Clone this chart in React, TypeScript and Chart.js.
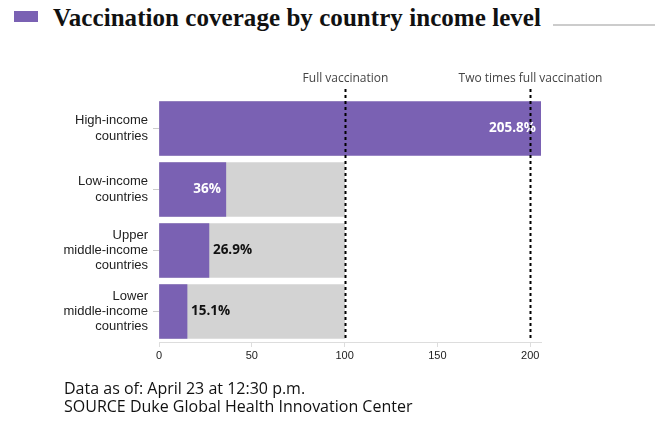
import React, { useEffect, useRef } from "react";
import { Chart, registerables } from "chart.js";

Chart.register(...registerables);

const categories: string[][] = [
  ["High-income", "countries"],
  ["Low-income", "countries"],
  ["Upper", "middle-income", "countries"],
  ["Lower", "middle-income", "countries"],
];
const coverage: number[] = [205.8, 36, 26.9, 15.1];
const fullTarget: number[] = [100, 100, 100, 100];
const valueLabels: string[] = ["205.8%", "36%", "26.9%", "15.1%"];
const referenceLines: number[] = [100, 200];
const referenceLabels: string[] = ["Full vaccination", "Two times full vaccination"];
const xTicks: number[] = [0, 50, 100, 150, 200];

const PURPLE = "#7a61b3";
const GRAY = "#d3d3d3";

const overlayPlugin = {
  id: "overlay",
  afterDatasetsDraw(chart: any) {
    const { ctx, chartArea } = chart;
    const xs = chart.scales.x;
    const meta = chart.getDatasetMeta(1);
    ctx.save();
    ctx.font = "bold 13.5px 'Open Sans', sans-serif";
    ctx.textBaseline = "middle";
    meta.data.forEach((bar: any, i: number) => {
      const v = coverage[i];
      if (v > 30) {
        ctx.fillStyle = "#ffffff";
        ctx.textAlign = "right";
        ctx.fillText(valueLabels[i], bar.x - 5, bar.y);
      } else {
        ctx.fillStyle = "#111111";
        ctx.textAlign = "left";
        ctx.fillText(valueLabels[i], bar.x + 4, bar.y);
      }
    });
    referenceLines.forEach((v, i) => {
      const x = Math.round(xs.getPixelForValue(v)) + 0.5;
      ctx.beginPath();
      ctx.setLineDash([3, 3]);
      ctx.lineWidth = 2;
      ctx.strokeStyle = "#000";
      ctx.moveTo(x, chartArea.top - 9);
      ctx.lineTo(x, chartArea.bottom - 4);
      ctx.stroke();
      ctx.setLineDash([]);
      ctx.font = "12px 'Open Sans', sans-serif";
      ctx.fillStyle = "#444";
      ctx.textAlign = "center";
      ctx.textBaseline = "alphabetic";
      ctx.fillText(referenceLabels[i], x, chartArea.top - 16);
    });
    ctx.restore();
  },
};

export default function App() {
  const ref = useRef<HTMLCanvasElement>(null);
  useEffect(() => {
    if (!ref.current) return;
    const chart = new Chart(ref.current, {
      type: "bar",
      data: {
        labels: categories,
        datasets: [
          {
            data: fullTarget,
            backgroundColor: GRAY,
            barThickness: 54,
            grouped: false,
            order: 2,
          },
          {
            data: coverage,
            backgroundColor: PURPLE,
            barThickness: 54,
            grouped: false,
            order: 1,
          },
        ],
      },
      options: {
        indexAxis: "y",
        animation: false,
        responsive: false,
        maintainAspectRatio: false,
        layout: { padding: { top: 98, right: 122, left: 0, bottom: 0 } },
        plugins: {
          legend: { display: false },
          tooltip: { enabled: false },
        },
        scales: {
          x: {
            min: 0,
            max: 205.8,
            afterBuildTicks: (s: any) => {
              s.ticks = xTicks.map((v) => ({ value: v }));
            },
            afterFit: (s: any) => {
              s.height = 83;
            },
            grid: {
              drawOnChartArea: false,
              drawTicks: true,
              tickLength: 5,
              color: "#dddddd",
            },
            border: { display: true, color: "#dddddd", width: 1 },
            ticks: {
              color: "#222",
              padding: 2,
              font: { family: "'Liberation Sans', Arial, sans-serif", size: 11 },
              maxRotation: 0,
            },
          },
          y: {
            afterFit: (s: any) => {
              s.width = 159;
            },
            grid: {
              offset: false,
              drawOnChartArea: false,
              drawTicks: true,
              tickLength: 6,
              color: "#cccccc",
            },
            border: { display: false },
            ticks: {
              color: "#222",
              padding: 5,
              font: { family: "'Liberation Sans', Arial, sans-serif", size: 13, lineHeight: 1.18 },
            },
          },
        },
      },
      plugins: [overlayPlugin],
    });
    return () => chart.destroy();
  }, []);

  return (
    <div style={{ position: "fixed", left: 0, top: 0, width: 663, height: 425, background: "#fff" }}>
      <div style={{ position: "absolute", left: 14, top: 11, width: 24, height: 11, background: PURPLE }} />
      <div
        style={{
          position: "absolute",
          left: 53,
          top: 3,
          fontFamily: "'Liberation Serif', 'Times New Roman', serif",
          fontWeight: "bold",
          fontSize: 25,
          lineHeight: "29px",
          color: "#111",
          whiteSpace: "nowrap",
          letterSpacing: "0.05px",
        }}
      >
        Vaccination coverage by country income level
      </div>
      <div style={{ position: "absolute", left: 553, top: 24, width: 102, height: 2, background: "#cccccc" }} />
      <canvas ref={ref} width={663} height={425} style={{ position: "absolute", left: 0, top: 0, width: 663, height: 425 }} />
      <div
        style={{
          position: "absolute",
          left: 64,
          top: 379,
          fontFamily: "'Open Sans', sans-serif",
          fontSize: 16,
          lineHeight: "18px",
          color: "#111",
          whiteSpace: "nowrap",
        }}
      >
        <div>Data as of: April 23 at 12:30 p.m.</div>
        <div>SOURCE Duke Global Health Innovation Center</div>
      </div>
    </div>
  );
}
